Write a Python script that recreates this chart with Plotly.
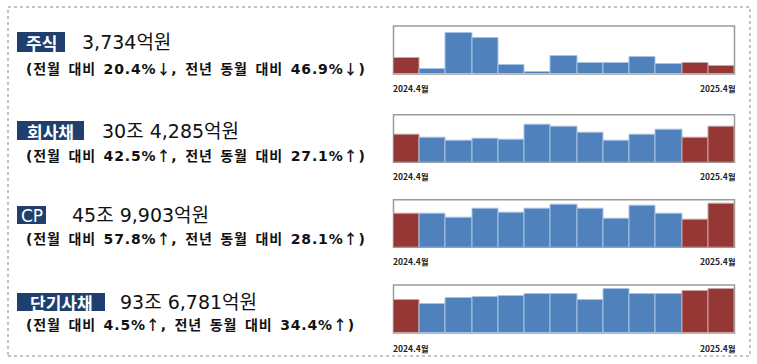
import plotly.graph_objects as go

W, H = 757, 364

months = ["2024.4", "2024.5", "2024.6", "2024.7", "2024.8", "2024.9", "2024.10",
          "2024.11", "2024.12", "2025.1", "2025.2", "2025.3", "2025.4"]

# 억원
stock = [7032, 2070, 18060, 15840, 3850, 890, 7840, 5030, 5030, 7550, 4590, 4691, 3734]
corp_bond = [239406, 207600, 182000, 199100, 196200, 318500, 307200, 250300, 182000,
             233200, 275900, 213533, 304285]
cp = [359019, 357300, 314900, 406900, 368000, 413900, 449300, 406900, 300700,
      438700, 353800, 291447, 459903]
short_bond = [697010, 619800, 732500, 753600, 788800, 817000, 831100, 704300, 929700,
              831100, 831100, 896441, 936781]

series_list = [stock, corp_bond, cp, short_bond]
y_max = [21300, 406700, 505900, 1014000]

tags = ["주식", "회사채", "CP", "단기사채"]
totals = ["3,734억원", "30조 4,285억원", "45조 9,903억원", "93조 6,781억원"]
changes = ["(전월 대비 20.4%↓, 전년 동월 대비 46.9%↓)",
           "(전월 대비 42.5%↑, 전년 동월 대비 27.1%↑)",
           "(전월 대비 57.8%↑, 전년 동월 대비 28.1%↑)",
           "(전월 대비 4.5%↑, 전년 동월 대비 34.4%↑)"]
start_label = "2024.4월"
end_label = "2025.4월"

BLUE = "#4F81BD"
RED = "#953735"
NAVY = "#1F3F6E"
CJK = "Noto Sans CJK KR"
MIX = "DejaVu Sans, Noto Sans CJK KR"

# layout geometry (pixels)
plot_x0, plot_x1 = 393.5, 734.5
plot_tops = [26, 114.7, 199.7, 285]
plot_bots = [74, 162.3, 247.3, 333]
date_y = [88, 176, 261, 348]
tag_boxes = [(17, 65, 32, 52), (17, 84, 121, 140), (17, 46, 206, 224), (17, 105, 293, 311)]
value_x = [80, 100, 70, 118]
sub_y = [68, 155, 238, 324]


def px(x):
    return x / W


def py(y):
    return 1 - y / H


def style_sub(t):
    for a in ("↓", "↑"):
        t = t.replace(a, f"<span style=\"font-family:'Noto Sans CJK KR'\">{a}</span>")
    return f'<span style="letter-spacing:0.85px;word-spacing:2px">{t}</span>'


fig = go.Figure()
shapes = []
annotations = []

for i, vals in enumerate(series_list):
    n = i + 1
    xa = "x" if n == 1 else f"x{n}"
    ya = "y" if n == 1 else f"y{n}"
    colors = [RED if (j == 0 or j >= len(vals) - 2) else BLUE for j in range(len(vals))]
    edge = ["#C9A5A4" if c == RED else "#A9C3E3" for c in colors]
    fig.add_trace(go.Bar(
        x=months, y=vals, xaxis=xa, yaxis=ya,
        marker=dict(color=colors, line=dict(color=edge, width=1)),
        showlegend=False, hoverinfo="x+y",
    ))
    xk = "xaxis" if n == 1 else f"xaxis{n}"
    yk = "yaxis" if n == 1 else f"yaxis{n}"
    fig.layout[xk] = dict(domain=[px(plot_x0), px(plot_x1)], anchor=ya,
                          visible=False, fixedrange=True)
    fig.layout[yk] = dict(domain=[py(plot_bots[i]), py(plot_tops[i])], anchor=xa,
                          range=[0, y_max[i]], visible=False, fixedrange=True)
    # frame of plot area (bars cover its lower part)
    shapes.append(dict(type="rect", xref=f"{xa} domain", yref=f"{ya} domain",
                       x0=0, x1=1, y0=0, y1=1, layer="below",
                       line=dict(color="#9A9A9A", width=1.5)))
    # date labels
    annotations.append(dict(text=start_label, x=px(plot_x0 - 3), y=py(date_y[i]),
                            xref="paper", yref="paper", xanchor="left", yanchor="middle",
                            showarrow=False,
                            font=dict(family=CJK, size=8.5, color="#222222", weight="bold")))
    annotations.append(dict(text=end_label, x=px(plot_x1 + 3), y=py(date_y[i]),
                            xref="paper", yref="paper", xanchor="right", yanchor="middle",
                            showarrow=False,
                            font=dict(family=CJK, size=8.5, color="#222222", weight="bold")))
    # tag box
    bx0, bx1, by0, by1 = tag_boxes[i]
    shapes.append(dict(type="rect", xref="paper", yref="paper",
                       x0=px(bx0), x1=px(bx1), y0=py(by1), y1=py(by0),
                       fillcolor=NAVY, line=dict(width=0)))
    is_cp = tags[i] == "CP"
    annotations.append(dict(text=tags[i], x=px((bx0 + bx1) / 2), y=py((by0 + by1) / 2 + 0.5),
                            xref="paper", yref="paper", xanchor="center", yanchor="middle",
                            showarrow=False,
                            font=dict(family=MIX if is_cp else CJK, size=17,
                                      color="white", weight="normal" if is_cp else "bold")))
    annotations.append(dict(text=totals[i], x=px(value_x[i]), y=py((by0 + by1) / 2),
                            xref="paper", yref="paper", xanchor="left", yanchor="middle",
                            showarrow=False,
                            font=dict(family=MIX, size=19, color="#111111")))
    annotations.append(dict(
        text=style_sub(changes[i]),
        x=px(24), y=py(sub_y[i]),
        xref="paper", yref="paper", xanchor="left", yanchor="middle",
        showarrow=False,
        font=dict(family=MIX, size=14, color="#111111", weight="bold")))

# outer dotted border
shapes.append(dict(type="rect", xref="paper", yref="paper",
                   x0=px(8), x1=px(750), y0=py(356), y1=py(7),
                   line=dict(color="#8A8A8A", width=1, dash="dot")))

fig.update_layout(
    width=W, height=H,
    margin=dict(l=0, r=0, t=0, b=0),
    paper_bgcolor="white", plot_bgcolor="rgba(0,0,0,0)",
    bargap=0,
    shapes=shapes, annotations=annotations,
    font=dict(family=CJK),
)

fig.write_html("out.html",
               config={"displayModeBar": False},
               post_script="document.body.style.margin='0';document.body.style.overflow='hidden';")
